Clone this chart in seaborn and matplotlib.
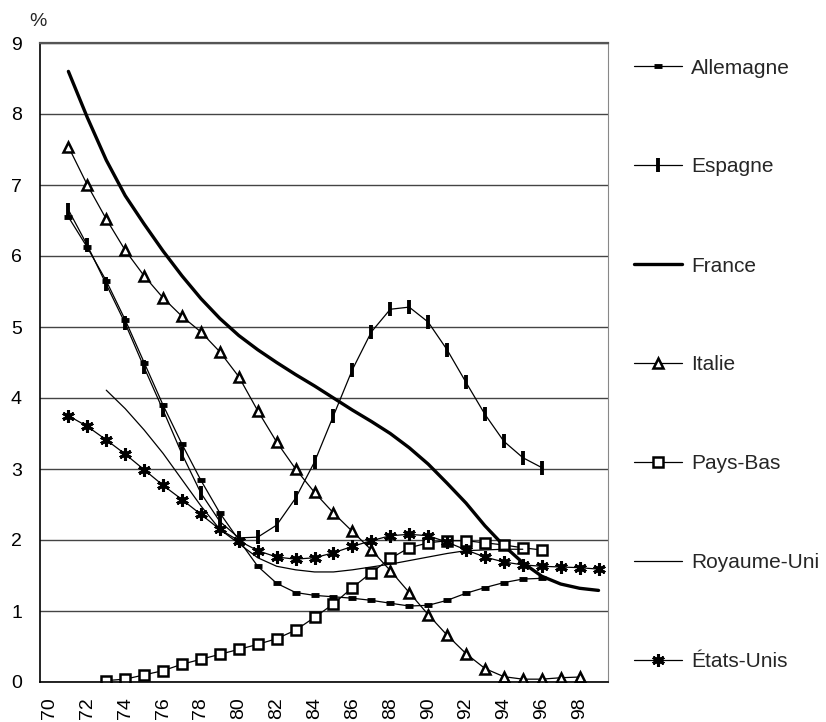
import numpy as np
import matplotlib
matplotlib.use("Agg")
import matplotlib.pyplot as plt
import seaborn as sns

# annual values, in %
years_allemagne = list(range(1971, 1997))
allemagne = [6.55, 6.12, 5.65, 5.10, 4.50, 3.90, 3.35, 2.84, 2.38, 2.00, 1.63, 1.39, 1.26,
             1.22, 1.20, 1.18, 1.15, 1.11, 1.07, 1.08, 1.15, 1.25, 1.33, 1.40, 1.45, 1.46]

years_espagne = list(range(1971, 1997))
espagne = [6.65, 6.15, 5.60, 5.05, 4.43, 3.83, 3.21, 2.66, 2.26, 2.03, 2.04, 2.21, 2.59,
           3.10, 3.75, 4.40, 4.93, 5.25, 5.28, 5.07, 4.68, 4.22, 3.77, 3.39, 3.16, 3.02]

years_france = list(range(1971, 2000))
france = [8.60, 7.95, 7.35, 6.85, 6.45, 6.07, 5.72, 5.40, 5.12, 4.88, 4.68, 4.50, 4.33,
          4.17, 4.00, 3.83, 3.67, 3.50, 3.30, 3.07, 2.80, 2.52, 2.20, 1.92, 1.68, 1.49,
          1.38, 1.32, 1.29]

years_italie = list(range(1971, 1999))
italie = [7.54, 7.00, 6.52, 6.08, 5.72, 5.41, 5.15, 4.93, 4.65, 4.30, 3.82, 3.38, 3.00,
          2.67, 2.38, 2.12, 1.86, 1.57, 1.26, 0.95, 0.66, 0.40, 0.19, 0.075, 0.04, 0.04,
          0.06, 0.07]

years_paysbas = list(range(1973, 1997))
paysbas = [0.02, 0.04, 0.10, 0.16, 0.25, 0.32, 0.39, 0.46, 0.53, 0.61, 0.73, 0.91, 1.10,
           1.33, 1.54, 1.74, 1.89, 1.96, 1.99, 1.99, 1.96, 1.93, 1.89, 1.86]

years_ru = list(range(1973, 1996))
royaume_uni = [4.11, 3.85, 3.55, 3.22, 2.85, 2.48, 2.15, 1.95, 1.75, 1.63, 1.58, 1.55,
               1.55, 1.58, 1.62, 1.66, 1.71, 1.76, 1.81, 1.85, 1.86, 1.87, 1.87]

years_eu = list(range(1971, 2000))
etats_unis = [3.75, 3.60, 3.41, 3.21, 2.99, 2.77, 2.57, 2.36, 2.15, 1.99, 1.85, 1.76,
              1.73, 1.75, 1.82, 1.91, 1.99, 2.06, 2.08, 2.06, 1.97, 1.86, 1.76, 1.69,
              1.65, 1.63, 1.62, 1.61, 1.59]

x_labels = [str(y)[2:] for y in range(1970, 1999, 2)]

sns.set_style("white")
plt.rcParams['font.family'] = ['Liberation Sans', 'DejaVu Sans']

fig = plt.figure(figsize=(8.26, 7.22), dpi=100)
ax = fig.add_axes([40 / 826, 40 / 722, 568 / 826, 639 / 722])

def yy(years):
    # two-digit year as x position
    return [y - 1900 for y in years]

sns.lineplot(x=yy(years_allemagne), y=allemagne, ax=ax, color='black', lw=0.9,
             marker='_', ms=6, mew=3.5, mec='black', label='Allemagne')
sns.lineplot(x=yy(years_espagne), y=espagne, ax=ax, color='black', lw=0.9,
             marker='|', ms=10, mew=2.8, mec='black', label='Espagne')
sns.lineplot(x=yy(years_france), y=france, ax=ax, color='black', lw=2.4,
             label='France')
sns.lineplot(x=yy(years_italie), y=italie, ax=ax, color='black', lw=0.9,
             marker='^', ms=6.5, mew=1.8, mfc='white', mec='black', label='Italie')
sns.lineplot(x=yy(years_paysbas), y=paysbas, ax=ax, color='black', lw=0.9,
             marker='s', ms=6.5, mew=1.8, mfc='white', mec='black', label='Pays-Bas')
sns.lineplot(x=yy(years_ru), y=royaume_uni, ax=ax, color='black', lw=0.9,
             label='Royaume-Uni')
sns.lineplot(x=yy(years_eu), y=etats_unis, ax=ax, color='black', lw=0.9,
             marker=(6, 2, 0), ms=9, mew=2.2, mec='black', label='États-Unis')

ax.set_xlim(69.5, 99.5)
ax.set_ylim(0, 9)
ax.set_yticks(range(0, 10))
ax.set_xticks(range(70, 99, 2))
ax.set_xticklabels(x_labels, rotation=90)
ax.set_xticks(np.arange(69.5, 100, 1), minor=True)
ax.tick_params(axis='x', which='major', length=0, pad=11, labelsize=14, colors='black')
ax.tick_params(axis='x', which='minor', length=6, width=1, color='black', direction='out')
ax.tick_params(axis='y', length=7, width=1, color='#555555', pad=6, labelsize=14,
               labelcolor='black', direction='out')
ax.yaxis.grid(True, color='#444444', lw=1)
ax.xaxis.grid(False)
ax.set_axisbelow(True)

ax.spines['left'].set_color('black')
ax.spines['bottom'].set_color('black')
ax.spines['top'].set_color('#555555')
ax.spines['top'].set_linewidth(1.6)
ax.spines['right'].set_color('#888888')
for s in ['left', 'bottom']:
    ax.spines[s].set_linewidth(1.2)

fig.text(38 / 826, 1 - 21 / 722, '%', fontsize=14, ha='center', va='center')

ax.legend(loc='upper left', bbox_to_anchor=(634 / 826, 1 - 58.5 / 722),
          bbox_transform=fig.transFigure, frameon=False, fontsize=15,
          borderpad=0, borderaxespad=0, handlelength=2.3, handletextpad=0.45,
          labelspacing=3.84, numpoints=1)

fig.savefig('out.png', dpi=100)
